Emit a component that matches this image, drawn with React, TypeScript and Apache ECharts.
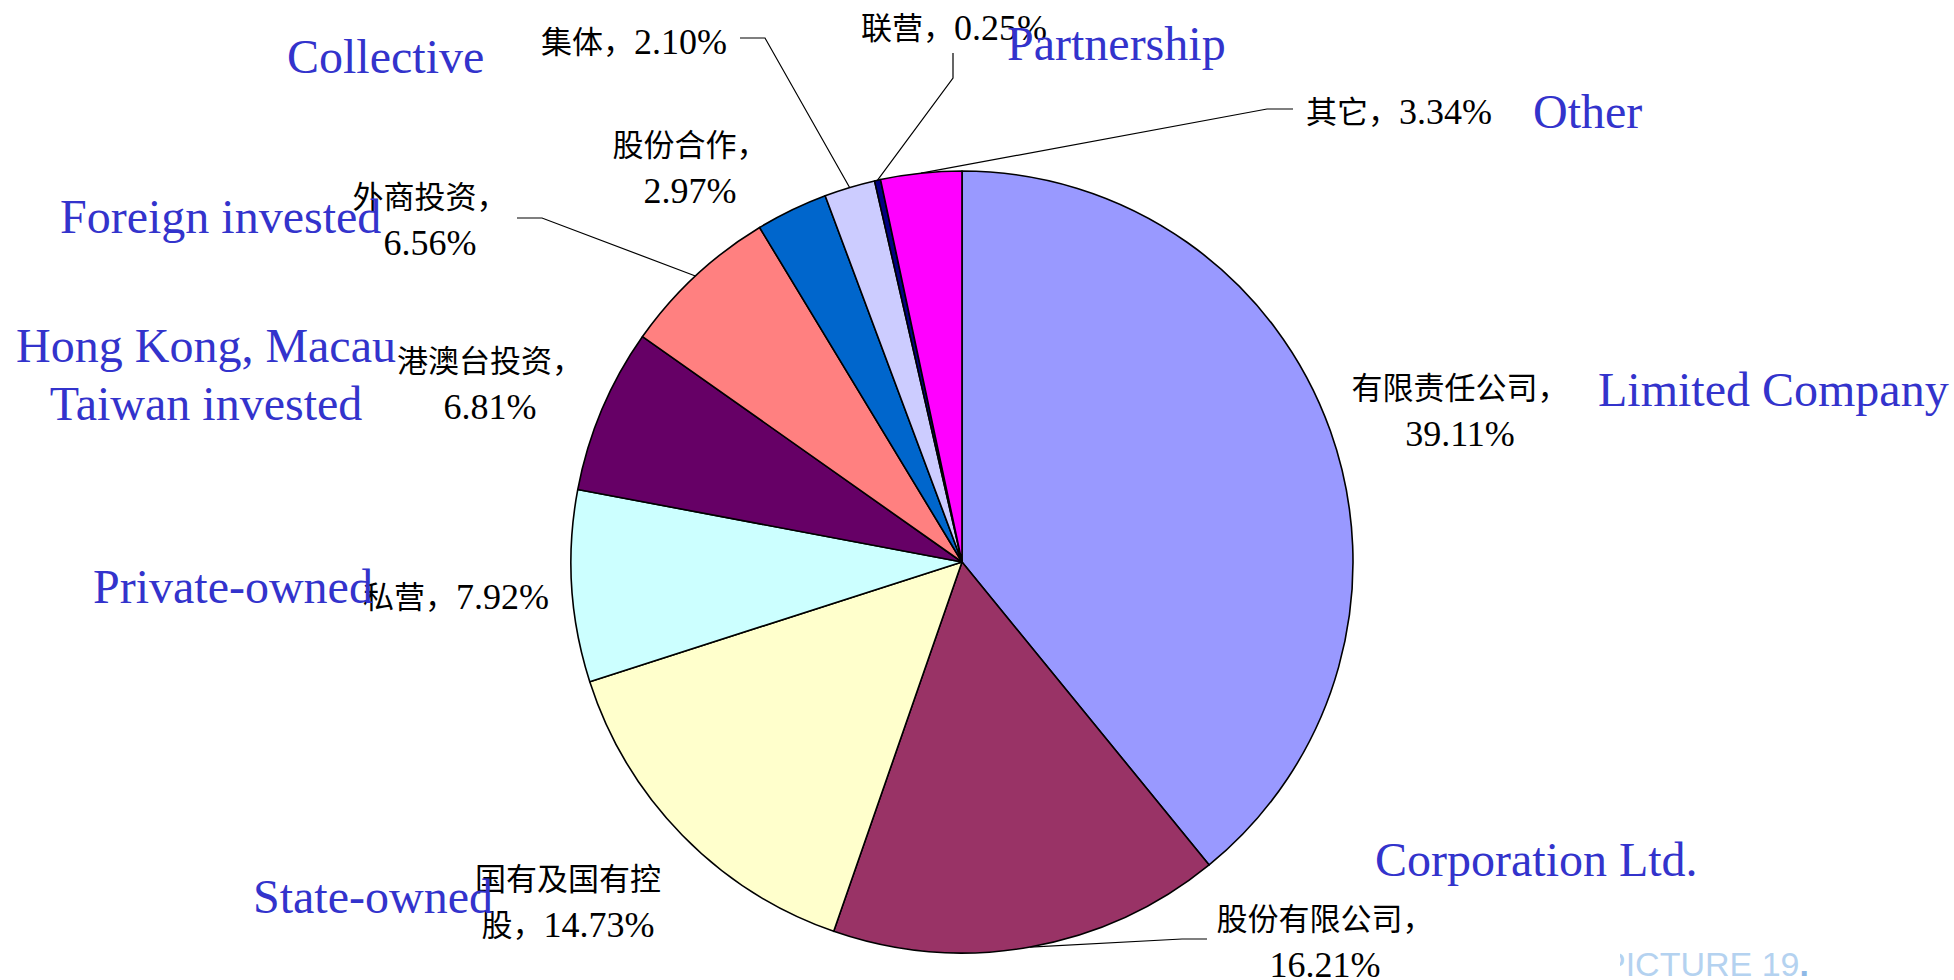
import React, { useEffect, useRef } from "react";
import * as echarts from "echarts";

// ---- data ----
const categories = ["有限责任公司", "股份有限公司", "国有及国有控股", "私营", "港澳台投资", "外商投资", "股份合作", "集体", "联营", "其它"];
const values = [39.11, 16.21, 14.73, 7.92, 6.81, 6.56, 2.97, 2.1, 0.25, 3.34];
const englishNames = ["Limited Company", "Corporation Ltd.", "State-owned", "Private-owned", "Hong Kong, Macau\nTaiwan invested", "Foreign invested", "", "Collective", "Partnership", "Other"];
const caption = "PICTURE 19";

// ---- styles / layout ----
const colors = ["#9999ff", "#993366", "#ffffcc", "#ccffff", "#660066", "#ff8080", "#0066cc", "#ccccff", "#000080", "#ff00ff"];
// chars of name before line break: -1 = single line, >= length = break after comma
const labelBreak = [99, 99, 6, -1, 99, 99, 99, -1, -1, -1];
const labelPos: number[][] = [
  [1460, 411], [1325, 942], [568, 902], [456, 597], [490, 384],
  [430, 220], [690, 168], [634, 42], [954, 28], [1399, 112],
];
const leaderPts: (number[][] | null)[] = [
  null,
  [[1182, 939], [1207, 939]],
  null, null, null,
  [[542, 218], [517, 218]],
  null,
  [[765, 38], [740, 38]],
  [[953, 78], [953, 53]],
  [[1267, 109], [1293, 109]],
];
const englishPos: number[][] = [
  [1598, 389], [1375, 859], [253, 896], [93, 586], [206, 374],
  [60, 216], [0, 0], [287, 56], [1007, 43], [1533, 111],
];

function fmt(i: number): string {
  const name = categories[i];
  const v = values[i].toFixed(2) + "%";
  const b = labelBreak[i];
  if (b < 0) return `{c|${name}，}{n|${v}}`;
  if (b >= name.length) return `{c|${name}，}\n{n|${v}}`;
  return `{c|${name.slice(0, b)}}\n{c|${name.slice(b)}，}{n|${v}}`;
}

export default function App() {
  const ref = useRef<HTMLDivElement>(null);
  useEffect(() => {
    if (!ref.current) return;
    const chart = echarts.init(ref.current, null, { renderer: "svg" });
    const data = categories.map((name, i) => ({
      name,
      value: values[i],
      itemStyle: { color: colors[i] },
      labelLine: { show: !!leaderPts[i] },
    }));
    const graphics: any[] = [];
    englishNames.forEach((t, i) => {
      if (!t) return;
      const multi = t.includes("\n");
      graphics.push({
        type: "text",
        x: englishPos[i][0],
        y: englishPos[i][1],
        z: 100,
        style: {
          text: t,
          fill: "#3333cc",
          fontSize: 48,
          fontFamily: "Liberation Serif",
          lineHeight: 58,
          align: multi ? "center" : "left",
          verticalAlign: "middle",
        },
      });
    });
    graphics.push({
      type: "text",
      x: 1603,
      y: 964,
      z: 100,
      style: {
        text: `{a|${caption}}{b|.}`,
        rich: {
          a: { fontSize: 34, fontFamily: "Liberation Sans", fill: "#b4d2f0" },
          b: { fontSize: 34, fontFamily: "Liberation Sans", fontWeight: "bold", fill: "#8fb9e6" },
        },
        align: "left",
        verticalAlign: "middle",
      },
    });
    graphics.push({
      type: "rect",
      z: 101,
      shape: { x: 1596, y: 940, width: 24, height: 40 },
      style: { fill: "#ffffff" },
    });
    chart.setOption({
      animation: false,
      backgroundColor: "#ffffff",
      series: [
        {
          type: "pie",
          center: [962, 562],
          radius: 391,
          startAngle: 90,
          clockwise: true,
          avoidLabelOverlap: false,
          data,
          itemStyle: { borderColor: "#000000", borderWidth: 1.6 },
          emphasis: { disabled: true },
          label: {
            show: true,
            position: "outside",
            formatter: (p: any) => fmt(p.dataIndex),
            align: "center",
            color: "#000",
            fontFamily: "Liberation Serif, Noto Sans CJK SC",
            rich: {
              c: { fontSize: 31, color: "#000", lineHeight: 46 },
              n: { fontSize: 36, color: "#000", lineHeight: 46 },
            },
          },
          labelLine: { show: false, lineStyle: { color: "#000", width: 1.2 } },
          labelLayout: (params: any) => {
            const i = params.dataIndex;
            const res: any = {
              x: labelPos[i][0],
              y: labelPos[i][1],
              align: "center",
              verticalAlign: "middle",
            };
            const lp = leaderPts[i];
            if (lp && params.labelLinePoints) {
              res.labelLinePoints = [params.labelLinePoints[0], ...lp];
            }
            return res;
          },
        },
      ],
      graphic: graphics,
    });
    return () => chart.dispose();
  }, []);
  return (
    <div
      ref={ref}
      style={{ position: "fixed", left: 0, top: 0, width: 1954, height: 980, background: "#fff" }}
    />
  );
}
